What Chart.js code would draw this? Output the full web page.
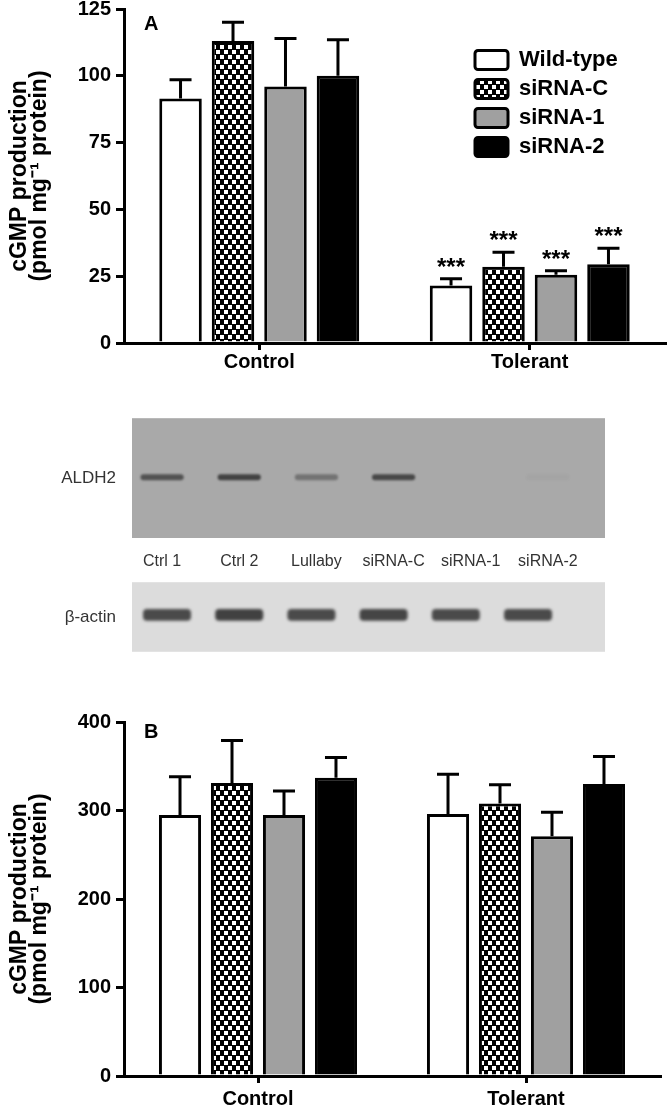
<!DOCTYPE html>
<html>
<head>
<meta charset="utf-8">
<title>cGMP production and ALDH2 western blot</title>
<script src="https://cdn.jsdelivr.net/npm/chart.js@4.4.1/dist/chart.umd.min.js"></script>
<style>
html, body { margin:0; padding:0; background:#fff; }
#page { position:relative; width:670px; height:1114px; overflow:hidden; background:#fff; }
#page canvas { position:absolute; left:0; }
</style>
</head>
<body>
<div id="page">
  <canvas id="chartA" width="670" height="391" style="top:-11px"></canvas>
  <canvas id="blotAldh2" width="670" height="188" style="top:392px"></canvas>
  <canvas id="blotActin" width="670" height="122" style="top:556px"></canvas>
  <canvas id="chartB" width="670" height="414" style="top:700px"></canvas>
</div>
<script>
// ---------------- DATA ----------------
const categories = ['Control', 'Tolerant'];
const seriesNames = ['Wild-type', 'siRNA-C', 'siRNA-1', 'siRNA-2'];
const yTitle = ['cGMP production', '(pmol mg\u207B\u00B9 protein)'];

// Panel A
const aTicks = [0, 25, 50, 75, 100, 125];
const aWildType = [91.5, 21.5];
const aSiRNAC   = [113, 28.5];
const aSiRNA1   = [96, 25.5];
const aSiRNA2   = [100, 29.5];
const aWildTypeErr = [7, 2.5];
const aSiRNACErr   = [7, 5.5];
const aSiRNA1Err   = [18, 1.5];
const aSiRNA2Err   = [13.5, 6];
const aStars = ['', '***'];

// Panel B
const bTicks = [0, 100, 200, 300, 400];
const bWildType = [295, 296];
const bSiRNAC   = [331, 308];
const bSiRNA1   = [295, 271];
const bSiRNA2   = [337, 330];
const bWildTypeErr = [43, 45];
const bSiRNACErr   = [48, 21];
const bSiRNA1Err   = [27, 27];
const bSiRNA2Err   = [23, 31];
const bStars = ['', ''];

// Western blot
const lanes = ['Ctrl 1', 'Ctrl 2', 'Lullaby', 'siRNA-C', 'siRNA-1', 'siRNA-2'];
const aldh2Intensity = [0.72, 0.85, 0.45, 0.8, 0.0, 0.04];
const actinIntensity = [0.85, 0.9, 0.85, 0.88, 0.85, 0.85];

// ---------------- STYLE / HELPERS ----------------
const FONT = "'Liberation Sans', Arial, Helvetica, sans-serif";
Chart.defaults.font.family = FONT;
Chart.defaults.color = '#000';
Chart.defaults.animation = false;

function checkerPattern() {
  const c = document.createElement('canvas');
  c.width = 8; c.height = 10;
  const g = c.getContext('2d');
  g.fillStyle = '#000'; g.fillRect(0, 0, 8, 10);
  g.fillStyle = '#fff';
  g.fillRect(0, 1, 4, 4);
  g.fillRect(4, 6, 4, 4);
  return g.createPattern(c, 'repeat');
}
const fills = ['#ffffff', checkerPattern(), '#a0a0a0', '#000000'];

const errorBars = {
  id: 'errorBars',
  afterDatasetsDraw(chart, args, opts) {
    const ctx = chart.ctx, ys = chart.scales.y;
    chart.data.datasets.forEach((ds, i) => {
      const meta = chart.getDatasetMeta(i);
      meta.data.forEach((bar, j) => {
        const top = ys.getPixelForValue(ds.data[j] + ds.errors[j]);
        ctx.save();
        ctx.strokeStyle = '#000';
        ctx.lineWidth = opts.lineWidth;
        ctx.beginPath();
        ctx.moveTo(bar.x, bar.y);
        ctx.lineTo(bar.x, top);
        ctx.moveTo(bar.x - opts.cap / 2, top);
        ctx.lineTo(bar.x + opts.cap / 2, top);
        ctx.stroke();
        if (ds.stars && ds.stars[j]) {
          ctx.fillStyle = '#000';
          ctx.font = 'bold 24px ' + FONT;
          ctx.textAlign = 'center';
          ctx.textBaseline = 'alphabetic';
          ctx.fillText(ds.stars[j], bar.x, top - opts.starGap);
        }
        ctx.restore();
      });
    });
  }
};

const panelLabel = {
  id: 'panelLabel',
  afterDraw(chart, args, opts) {
    const ctx = chart.ctx, a = chart.chartArea;
    ctx.save();
    ctx.fillStyle = '#000';
    ctx.font = 'bold 20px ' + FONT;
    ctx.textAlign = 'left';
    ctx.textBaseline = 'middle';
    ctx.fillText(opts.text, a.left + opts.dx, a.top + opts.dy);
    ctx.restore();
  }
};

const legendShift = {
  id: 'legendShift',
  afterLayout(chart, args, opts) {
    if (chart.legend && opts && opts.left !== undefined) {
      chart.legend.left = opts.left;
      chart.legend.top = opts.top;
    }
  }
};

const blotBg = {
  id: 'blotBg',
  beforeDatasetsDraw(chart, args, opts) {
    const ctx = chart.ctx, a = chart.chartArea;
    ctx.save();
    ctx.fillStyle = opts.color;
    ctx.fillRect(a.left, a.top, a.width, a.height);
    ctx.restore();
    ctx.save();
    ctx.filter = 'blur(' + opts.blur + 'px)';
  },
  afterDatasetsDraw(chart) {
    chart.ctx.restore();
  }
};

function cgmpChart(id, ticks, values, errors, stars, o) {
  const axisGrid = (len) => ({
    display: true, drawOnChartArea: false, drawTicks: true,
    tickLength: len, lineWidth: 3, color: '#000', offset: false
  });
  return new Chart(document.getElementById(id), {
    type: 'bar',
    data: {
      labels: categories,
      datasets: seriesNames.map((name, i) => ({
        label: name,
        data: values[i],
        errors: errors[i],
        stars: stars,
        backgroundColor: fills[i],
        borderColor: '#000',
        borderWidth: 3,
        categoryPercentage: 0.776,
        barPercentage: 0.81
      }))
    },
    options: {
      responsive: false,
      animation: false,
      events: [],
      layout: { padding: { top: o.top, right: o.right, left: 0, bottom: 0 } },
      scales: {
        x: {
          type: 'category',
          offset: true,
          grid: axisGrid(7),
          border: { display: true, width: 3, color: '#000' },
          ticks: { font: { size: 20, weight: 'bold' }, color: '#000', padding: o.xPad, maxRotation: 0 },
          afterFit: s => { s.height = o.xHeight; }
        },
        y: {
          min: ticks[0],
          max: ticks[ticks.length - 1],
          grid: axisGrid(8),
          border: { display: true, width: 3, color: '#000' },
          ticks: { stepSize: ticks[1] - ticks[0], font: { size: 20, weight: 'bold' }, color: '#000', padding: 5 },
          title: {
            display: true, text: yTitle, color: '#000',
            font: { size: 23, weight: 'bold', lineHeight: 0.9 },
            padding: { top: 9, bottom: 0 }
          },
          afterFit: s => { s.width = 124; }
        }
      },
      plugins: {
        legend: o.legend ? {
          display: true, position: 'chartArea', align: 'start',
          labels: {
            boxWidth: 33, boxHeight: 19, padding: 7, color: '#000',
            font: { size: 22, weight: 'bold' },
            useBorderRadius: true, borderRadius: 3
          }
        } : { display: false },
        tooltip: { enabled: false },
        errorBars: { cap: 22, lineWidth: 3, starGap: 4 },
        panelLabel: { text: o.panel, dx: 20, dy: o.panelDy },
        legendShift: o.legend ? { left: 468, top: 53 } : {}
      }
    },
    plugins: [errorBars, panelLabel, legendShift]
  });
}

function laneLabel(v) {
  const k = Math.round(v);
  return (Math.abs(v - k) < 1e-6 && lanes[k - 1] !== undefined) ? lanes[k - 1] : '';
}

function blotChart(id, o) {
  return new Chart(document.getElementById(id), {
    type: 'bar',
    data: {
      datasets: [{
        label: o.name,
        data: lanes.map((_, i) => ({ x: i + 1, y: o.band })),
        backgroundColor: c => 'rgba(48,48,48,' + o.intensity[c.dataIndex] + ')',
        borderWidth: 0,
        borderSkipped: false,
        borderRadius: o.radius,
        categoryPercentage: 1,
        barPercentage: o.barPct
      }]
    },
    options: {
      responsive: false,
      animation: false,
      events: [],
      layout: { padding: { top: 0, right: 65, bottom: 0, left: 0 } },
      scales: {
        x: {
          type: 'linear', display: o.showLanes, bounds: 'data', offset: false,
          min: o.xmin, max: o.xmax,
          grid: { display: false, drawTicks: false },
          border: { display: false },
          ticks: {
            autoSkip: false, maxRotation: 0, minRotation: 0,
            padding: 14, font: { size: 16 }, color: '#333',
            callback: v => laneLabel(v)
          },
          afterBuildTicks: s => { s.ticks = lanes.map((_, i) => ({ value: i + 1 })); },
          afterFit: s => { s.height = o.xHeight; }
        },
        y: {
          type: 'linear', min: 0, max: 10, bounds: 'data',
          grid: { display: false, drawTicks: false },
          border: { display: false },
          ticks: { padding: 16, font: { size: 17 }, color: '#333',
                   callback: v => (Math.abs(v - 5) < 1e-6 ? o.name : '') },
          afterBuildTicks: s => { s.ticks = [{ value: 0 }, { value: 5 }, { value: 10 }]; },
          afterFit: s => { s.width = 132; }
        }
      },
      plugins: {
        legend: { display: false },
        tooltip: { enabled: false },
        blotBg: { color: o.bg, blur: o.blur }
      }
    },
    plugins: [blotBg]
  });
}

// ---------------- CHARTS ----------------
cgmpChart('chartA', aTicks,
  [aWildType, aSiRNAC, aSiRNA1, aSiRNA2],
  [aWildTypeErr, aSiRNACErr, aSiRNA1Err, aSiRNA2Err],
  aStars,
  { top: 20, right: 5, xHeight: 37, xPad: 0, legend: true, panel: 'A', panelDy: 15 });

blotChart('blotAldh2', {
  name: 'ALDH2', intensity: aldh2Intensity, band: [4.83, 5.33],
  barPct: 0.56, radius: 3, xHeight: 42, showLanes: true,
  xmin: 0.61, xmax: 6.74, bg: '#a9a9a9', blur: 1.2
});

blotChart('blotActin', {
  name: '\u03B2-actin', intensity: actinIntensity, band: [4.45, 6.15],
  barPct: 0.665, radius: 4, xHeight: 0, showLanes: false,
  xmin: 0.515, xmax: 7.066, bg: '#dcdcdc', blur: 1.5
});

cgmpChart('chartB', bTicks,
  [bWildType, bSiRNAC, bSiRNA1, bSiRNA2],
  [bWildTypeErr, bSiRNACErr, bSiRNA1Err, bSiRNA2Err],
  bStars,
  { top: 22, right: 10, xHeight: 38, xPad: 4, legend: false, panel: 'B', panelDy: 10 });
</script>
</body>
</html>
